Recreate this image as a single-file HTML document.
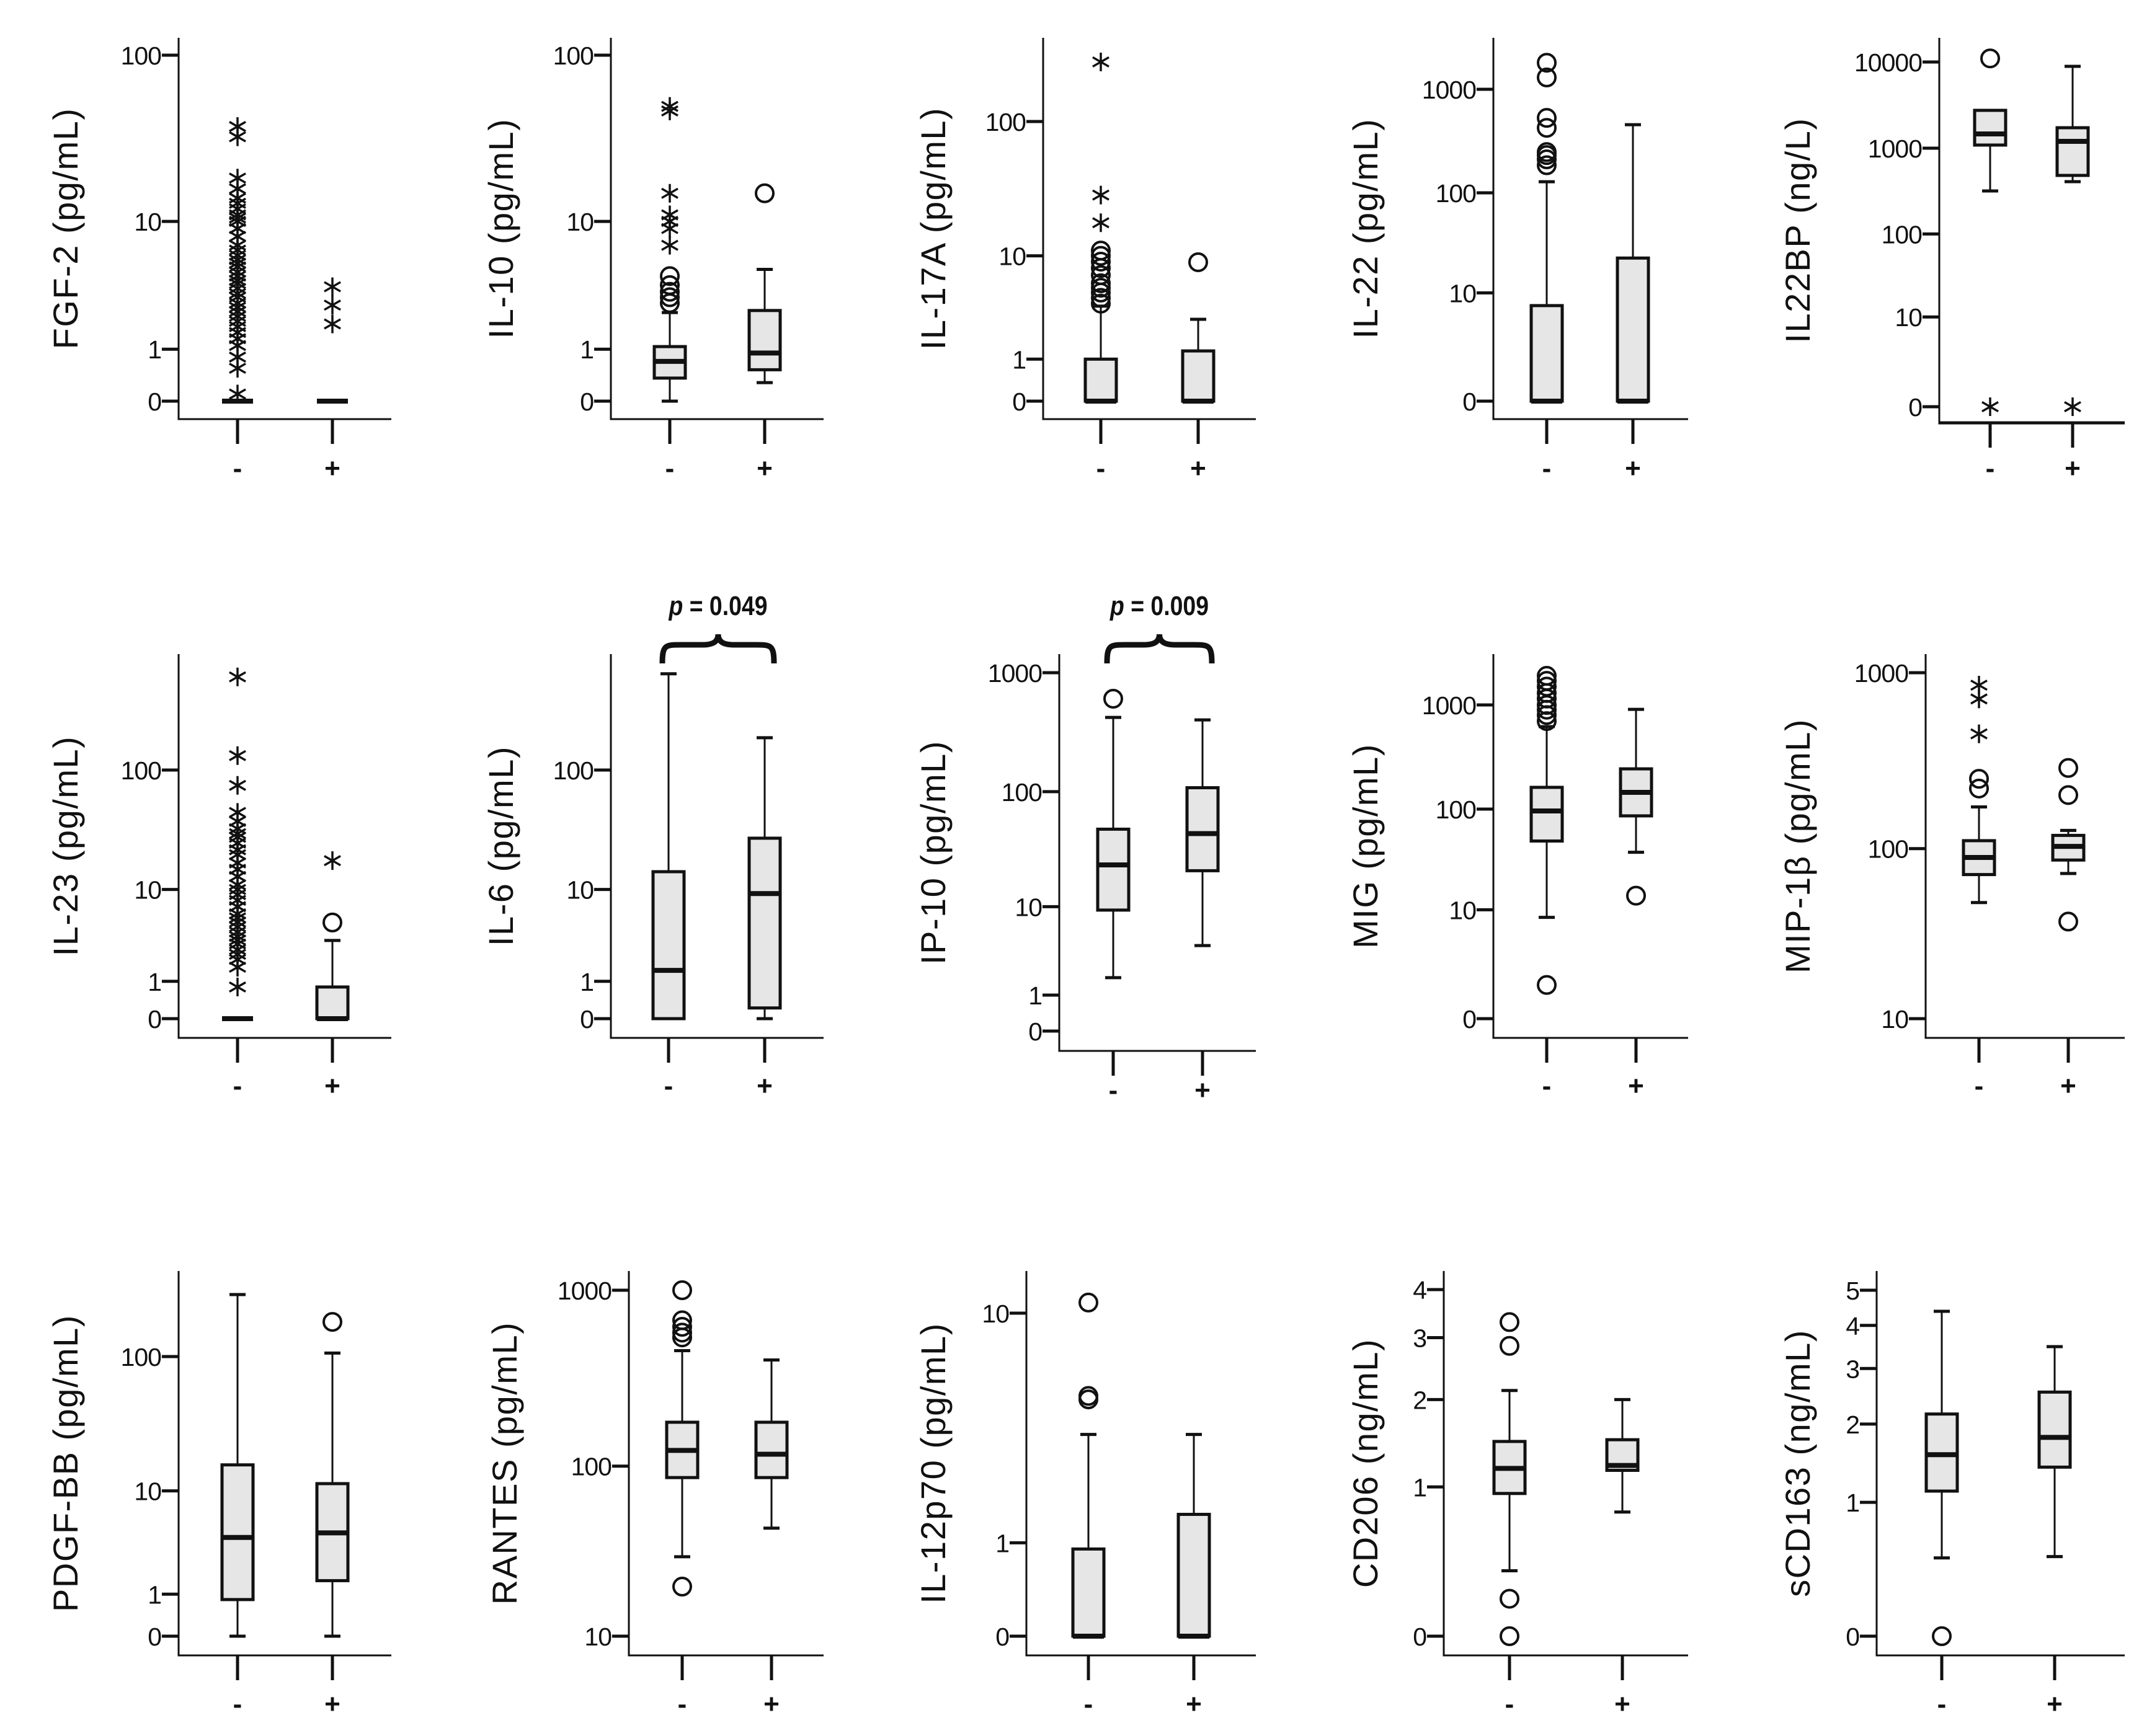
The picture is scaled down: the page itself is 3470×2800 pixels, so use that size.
<!DOCTYPE html>
<html><head><meta charset="utf-8">
<style>
html,body{margin:0;padding:0;background:#fff;}
svg{display:block;}
text{font-family:"Liberation Sans",Arial,sans-serif;fill:#111;}
</style></head>
<body>
<svg id="fig" xmlns="http://www.w3.org/2000/svg" width="3470" height="2800" viewBox="0 0 3470 2800"></svg>
<script>
// ---------- data ----------
// box stats per group: [min, q1, median, q3, max]; groups: ["-", "+"]
const groups = ["-", "+"];

const fgf2Box = [[0,0,0,0,0],[0,0,0,0,0]];
const fgf2Circles = [[],[]];
const fgf2Stars = [[0.1,0.55,0.8,1.1,1.3,1.5,1.7,1.9,2.1,2.3,2.5,2.7,3,3.2,3.5,3.8,4,4.3,4.6,5,5.3,5.6,6,6.5,7,8,9,10,10.5,11,12,13,14,16,18.6,33,38],[1.8,2.6,3.6]];

const il10Box = [[0,0.36,0.7,1.07,2.26],[0.28,0.52,0.9,2.35,4.8]];
const il10Circles = [[2.7,3.0,3.3,3.7,4.3],[15]];
const il10Stars = [[7,9,10,11,15,47,50],[]];

const il17aBox = [[0,0,0,1.0,3.8],[0,0,0,1.29,2.86]];
const il17aCircles = [[4,4.5,5,5.5,6,7,8,9,10,11],[8.9]];
const il17aStars = [[18,29,269],[]];

const il22Box = [[0,0,0,7.3,128],[0,0,0,22.8,456]];
const il22Circles = [[185,211,232,248,425,530,1300,1800],[]];
const il22Stars = [[],[]];

const il22bpBox = [[318,1086,1462,2747,2747],[408,482,1200,1726,8900]];
const il22bpCircles = [[11000],[]];
const il22bpStars = [[0],[0]];

const il23Box = [[0,0,0,0,0],[0,0,0,0.8,3.27]];
const il23Circles = [[],[4.96]];
const il23Stars = [[0.8,1.6,2,2.3,2.6,3,3.3,3.6,4,4.5,5,5.5,6,7,8,9,10,11,13,15,17,20,22,25,28,30,33,38,45,75,131,568],[17.8]];

const il6Box = [[0,0,1.45,14.3,602],[0,0.22,9.2,27.5,183]];
const il6Circles = [[],[]];
const il6Stars = [[],[]];

const ip10Box = [[1.8,9.3,23.6,48,422],[4.2,21,44,108,402]];
const ip10Circles = [[605],[]];
const ip10Stars = [[],[]];

const migBox = [[8.3,49,96,162,620],[38,86,145,244,907]];
const migCircles = [[1.1,700,800,900,1000,1150,1300,1500,1700,1900],[14]];
const migStars = [[],[]];

const mipBox = [[49,71,89,111,173],[72,86,103,119,127]];
const mipCircles = [[220,250],[38,202,288]];
const mipStars = [[450,710,850],[]];

const pdgfBox = [[0,0.83,4.1,15.9,280],[0,1.5,4.5,11.4,106]];
const pdgfCircles = [[],[178]];
const pdgfStars = [[],[]];

const rantesBox = [[30,86,123,178,454],[44,86,117,178,402]];
const rantesCircles = [[20,540,575,620,675,1000],[]];
const rantesStars = [[],[]];

const il12Box = [[0,0,0,0.91,3.47],[0,0,0,1.47,3.47]];
const il12Circles = [[4.8,4.95,10.9],[]];
const il12Stars = [[],[]];

const cd206Box = [[0.355,0.94,1.18,1.47,2.13],[0.78,1.16,1.21,1.49,2.0]];
const cd206Circles = [[0,0.19,2.85,3.3],[]];
const cd206Stars = [[],[]];

const scd163Box = [[0.5,1.12,1.56,2.16,4.38],[0.51,1.40,1.80,2.54,3.48]];
const scd163Circles = [[0],[]];
const scd163Stars = [[],[]];

// tick values
const ticksA = [0,1,10,100];
const ticksB = [0,10,100,1000];
const ticksC = [0,10,100,1000,10000];
const ticksD = [0,1,10,100,1000];
const ticksE = [10,100,1000];
const ticksF = [0,1,10];
const ticksG = [0,1,2,3,4];
const ticksH = [0,1,2,3,4,5];

// ---------- layout ----------
const panels = [
 {id:"fgf-2",title:"FGF-2 (pg/mL)",ax:288,right:631,top:61,bot:676,gx:[383,536],tx:106,ticks:ticksA,yF:647,yL:89,box:fgf2Box,circ:fgf2Circles,star:fgf2Stars,ly:756},
 {id:"il-10",title:"IL-10 (pg/mL)",ax:985,right:1328,top:61,bot:676,gx:[1080,1233],tx:808,ticks:ticksA,yF:647,yL:89,box:il10Box,circ:il10Circles,star:il10Stars,ly:756},
 {id:"il-17a",title:"IL-17A (pg/mL)",ax:1682,right:2025,top:61,bot:676,gx:[1775,1932],tx:1505,ticks:ticksA,yF:647,yL:196,box:il17aBox,circ:il17aCircles,star:il17aStars,ly:756},
 {id:"il-22",title:"IL-22 (pg/mL)",ax:2408,right:2722,top:61,bot:676,gx:[2494,2633],tx:2202,ticks:ticksB,yF:647,yL:144,box:il22Box,circ:il22Circles,star:il22Stars,ly:756},
 {id:"il22bp",title:"IL22BP (ng/L)",ax:3127,right:3426,top:61,bot:682,gx:[3209,3342],tx:2899,ticks:ticksC,yF:656,yL:100,box:il22bpBox,circ:il22bpCircles,star:il22bpStars,ly:756},
 {id:"il-23",title:"IL-23 (pg/mL)",ax:288,right:631,top:1055,bot:1674,gx:[383,536],tx:106,ticks:ticksA,yF:1643,yL:1242,box:il23Box,circ:il23Circles,star:il23Stars,ly:1752},
 {id:"il-6",title:"IL-6 (pg/mL)",ax:985,right:1328,top:1055,bot:1674,gx:[1078,1233],tx:808,ticks:ticksA,yF:1643,yL:1242,box:il6Box,circ:il6Circles,star:il6Stars,ly:1752,p:"0.049"},
 {id:"ip-10",title:"IP-10 (pg/mL)",ax:1708,right:2025,top:1055,bot:1695,gx:[1795,1939],tx:1505,ticks:ticksD,yF:1663,yL:1085,box:ip10Box,circ:ip10Circles,star:ip10Stars,ly:1759,p:"0.009"},
 {id:"mig",title:"MIG (pg/mL)",ax:2408,right:2722,top:1055,bot:1674,gx:[2494,2638],tx:2202,ticks:ticksB,yF:1643,yL:1137,box:migBox,circ:migCircles,star:migStars,ly:1752},
 {id:"mip-1b",title:"MIP-1β (pg/mL)",ax:3105,right:3426,top:1055,bot:1674,gx:[3191,3335],tx:2899,ticks:ticksE,yF:1643,yL:1085,box:mipBox,circ:mipCircles,star:mipStars,ly:1752},
 {id:"pdgf-bb",title:"PDGF-BB (pg/mL)",ax:288,right:631,top:2050,bot:2670,gx:[383,536],tx:106,ticks:ticksA,yF:2639,yL:2188,box:pdgfBox,circ:pdgfCircles,star:pdgfStars,ly:2749},
 {id:"rantes",title:"RANTES (pg/mL)",ax:1014,right:1328,top:2050,bot:2670,gx:[1100,1244],tx:814,ticks:ticksE,yF:2639,yL:2081,box:rantesBox,circ:rantesCircles,star:rantesStars,ly:2749},
 {id:"il-12p70",title:"IL-12p70 (pg/mL)",ax:1655,right:2025,top:2050,bot:2670,gx:[1755,1925],tx:1505,ticks:ticksF,yF:2639,yL:2118,box:il12Box,circ:il12Circles,star:il12Stars,ly:2749},
 {id:"cd206",title:"CD206 (ng/mL)",ax:2328,right:2722,top:2050,bot:2670,gx:[2434,2616],tx:2202,ticks:ticksG,yF:2639,yL:2080,box:cd206Box,circ:cd206Circles,star:cd206Stars,ly:2749},
 {id:"scd163",title:"sCD163 (ng/mL)",ax:3026,right:3426,top:2050,bot:2670,gx:[3131,3313],tx:2899,ticks:ticksH,yF:2639,yL:2081,box:scd163Box,circ:scd163Circles,star:scd163Stars,ly:2749}
];

const NS="http://www.w3.org/2000/svg";
const svg=document.getElementById('fig');
function mk(tag,attrs,parent){const e=document.createElementNS(NS,tag);for(const k in attrs)e.setAttribute(k,attrs[k]);(parent||svg).appendChild(e);return e;}
function L(v){return Math.log10(v+1);}
function makeScale(p){const t=p.ticks;const k=(p.yF-p.yL)/(L(t[t.length-1])-L(t[0]));const y0=p.yF+k*L(t[0]);return v=>y0-k*L(v);}

const BW=50, CAP=26;
panels.forEach(p=>{
  const y=makeScale(p);
  const g=mk('g',{});
  
  
  const ya=mk('line',{x1:p.ax,y1:p.top,x2:p.ax,y2:p.bot,stroke:'#111','stroke-width':3},g);
  
  
  const xa=mk('line',{x1:p.ax-1.5,y1:p.bot,x2:p.right,y2:p.bot,stroke:'#111','stroke-width':p.id==='il22bp'?5:3},g);
  
  
  p.ticks.forEach(t=>{
    const ty=y(t);
    const tl=mk('line',{x1:p.ax-27,y1:ty,x2:p.ax,y2:ty,stroke:'#111','stroke-width':5},g);
    
    
    const tt=mk('text',{x:p.ax-28,y:ty+15,'text-anchor':'end','font-size':41,'letter-spacing':'-1'},g);
    tt.textContent=String(t);
    
    
  });
  const cy=(p.top+p.bot)/2;
  const ti=mk('text',{x:p.tx,y:cy,'text-anchor':'middle','font-size':56,'letter-spacing':'1.5',transform:`rotate(-90 ${p.tx} ${cy})`,dy:19},g);
  ti.textContent=p.title;
  
  
  groups.forEach((gn,i)=>{
    const x=p.gx[i];
    const xt=mk('line',{x1:x,y1:p.bot,x2:x,y2:p.bot+40,stroke:'#111','stroke-width':5},g);
    
    
    const xl=mk('text',{x:x,y:p.ly+14,'text-anchor':'middle','font-size':44,'font-weight':'bold'},g);
    xl.textContent=gn;
    
    
    const b=p.box[i];
    const bg=mk('g',{},g);
    
    
    if(b[4]>b[3]){
      mk('line',{x1:x,y1:y(b[3]),x2:x,y2:y(b[4]),stroke:'#111','stroke-width':3},bg);
      mk('line',{x1:x-CAP/2,y1:y(b[4]),x2:x+CAP/2,y2:y(b[4]),stroke:'#111','stroke-width':5},bg);
    }
    if(b[1]>b[0]){
      mk('line',{x1:x,y1:y(b[1]),x2:x,y2:y(b[0]),stroke:'#111','stroke-width':3},bg);
      mk('line',{x1:x-CAP/2,y1:y(b[0]),x2:x+CAP/2,y2:y(b[0]),stroke:'#111','stroke-width':5},bg);
    }
    if(b[3]>b[1]){
      mk('rect',{x:x-BW/2,y:y(b[3]),width:BW,height:y(b[1])-y(b[3]),fill:'#e6e6e6',stroke:'#111','stroke-width':5},bg);
    }
    mk('line',{x1:x-BW/2,y1:y(b[2]),x2:x+BW/2,y2:y(b[2]),stroke:'#111','stroke-width':8},bg);
    p.circ[i].forEach(v=>{
      const c=mk('circle',{cx:x,cy:y(v),r:14,fill:'none',stroke:'#111','stroke-width':4},g);
      
      
    });
    p.star[i].forEach(v=>{
      const sy=y(v),r=15;
      const s=mk('g',{stroke:'#111','stroke-width':3.5},g);
      
      
      mk('line',{x1:x,y1:sy-r,x2:x,y2:sy+r},s);
      mk('line',{x1:x-r*0.87,y1:sy-r*0.5,x2:x+r*0.87,y2:sy+r*0.5},s);
      mk('line',{x1:x-r*0.87,y1:sy+r*0.5,x2:x+r*0.87,y2:sy-r*0.5},s);
    });
  });
  if(p.p){
    const x1=p.gx[0]-10,x2=p.gx[1]+15,xm=(x1+x2)/2;
    const br=mk('path',{d:`M${x1},1070 C${x1},1040 ${x1+5},1040 ${x1+30},1040 L${xm-25},1040 C${xm-8},1040 ${xm},1035 ${xm},1023 C${xm},1035 ${xm+8},1040 ${xm+25},1040 L${x2-30},1040 C${x2-5},1040 ${x2},1040 ${x2},1070`,fill:'none',stroke:'#111','stroke-width':9},g);
    
    
    const pt=mk('text',{x:xm,y:992,'text-anchor':'middle','font-size':44,'font-weight':'bold',transform:`translate(${xm*0.15} 0) scale(0.85 1)`},g);
    
    
    const ip=document.createElementNS(NS,'tspan');ip.setAttribute('font-style','italic');ip.textContent='p';pt.appendChild(ip);
    const rest=document.createElementNS(NS,'tspan');rest.textContent=' = '+p.p;pt.appendChild(rest);
  }
});
</script>
</body></html>
